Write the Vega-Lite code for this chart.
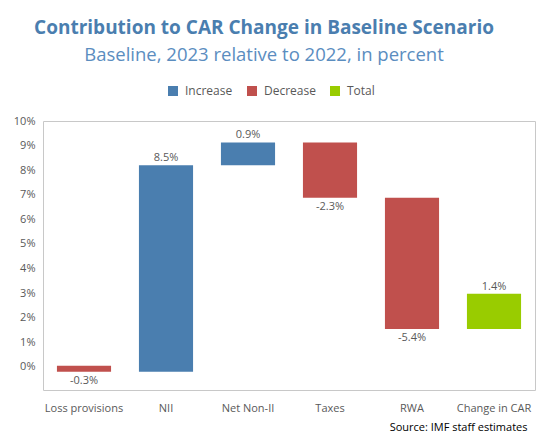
{
  "$schema": "https://vega.github.io/schema/vega-lite/v6.json",
  "autosize": {"type": "none"},
  "width": 492,
  "height": 269,
  "padding": {"left": 43, "top": 121, "right": 4, "bottom": 55},
  "background": "white",
  "config": {
    "font": "Open Sans",
    "view": {"stroke": "#C8C8C8", "strokeWidth": 1}
  },
  "title": {
    "text": "Contribution to CAR Change in Baseline Scenario",
    "subtitle": "Baseline, 2023 relative to 2022, in percent",
    "anchor": "middle",
    "frame": "group",
    "dx": -25,
    "fontSize": 19,
    "fontWeight": "bold",
    "color": "#4A7EAF",
    "subtitleFontSize": 18.5,
    "subtitleColor": "#5B8DBF",
    "subtitlePadding": 8,
    "offset": 21
  },
  "data": {
    "values": [
      {"category": "Loss provisions", "type": "Decrease", "start": 0.0005, "end": -0.002, "change": -0.003},
      {"category": "NII", "type": "Increase", "start": -0.002, "end": 0.082, "change": 0.085},
      {"category": "Net Non-II", "type": "Increase", "start": 0.082, "end": 0.0913, "change": 0.009},
      {"category": "Taxes", "type": "Decrease", "start": 0.0913, "end": 0.0688, "change": -0.023},
      {"category": "RWA", "type": "Decrease", "start": 0.0688, "end": 0.0154, "change": -0.054},
      {"category": "Change in CAR", "type": "Total", "start": 0.0154, "end": 0.0297, "change": 0.014}
    ]
  },
  "transform": [
    {"calculate": "replace(format(datum.change, '.1%'), '\u2212', '-')", "as": "label"}
  ],
  "encoding": {
    "x": {
      "field": "category",
      "type": "nominal",
      "sort": null,
      "scale": {"paddingInner": 0.34, "paddingOuter": 0.17},
      "axis": {
        "labelAngle": 0,
        "labelFontSize": 11,
        "labelColor": "#595959",
        "labelPadding": 12,
        "ticks": false,
        "domain": false,
        "title": "Source: IMF staff estimates",
        "titleFontSize": 11,
        "titleFontWeight": "normal",
        "titleColor": "#000000",
        "titleAlign": "right",
        "titleAnchor": "end",
        "titleX": 484,
        "titleY": 37,
        "titleBaseline": "middle"
      }
    },
    "y": {
      "field": "end",
      "type": "quantitative",
      "scale": {"domain": [-0.0094, 0.1], "nice": false, "zero": false},
      "axis": {
        "values": [0, 0.01, 0.02, 0.03, 0.04, 0.05, 0.06, 0.07, 0.08, 0.09, 0.1],
        "format": ".0%",
        "labelOverlap": false,
        "grid": false,
        "ticks": false,
        "domain": false,
        "labelFontSize": 11,
        "labelColor": "#595959",
        "labelPadding": 8,
        "title": null
      }
    }
  },
  "layer": [
    {
      "mark": {"type": "bar"},
      "encoding": {
        "y2": {"field": "start"},
        "color": {
          "field": "type",
          "type": "nominal",
          "scale": {"domain": ["Increase", "Decrease", "Total"], "range": ["#4A7EAF", "#C0504D", "#99CC00"]},
          "legend": {
            "title": null,
            "orient": "none",
            "direction": "horizontal",
            "legendX": 124,
            "legendY": -36,
            "symbolType": "square",
            "symbolSize": 100,
            "symbolStrokeWidth": 0,
            "labelFontSize": 12,
            "labelColor": "#595959",
            "labelOffset": 6,
            "columnPadding": 13,
            "encode": {
              "symbols": {
                "update": {
                  "fill": {"signal": "datum.value === 'Total' ? '#9BBB59' : datum.value === 'Increase' ? '#4F81BD' : '#C0504D'"}
                }
              }
            }
          }
        }
      }
    },
    {
      "transform": [{"filter": "datum.type !== 'Decrease'"}],
      "mark": {"type": "text", "baseline": "bottom", "dy": -2, "fontSize": 11, "color": "#595959"},
      "encoding": {
        "text": {"field": "label", "type": "nominal"}
      }
    },
    {
      "transform": [{"filter": "datum.type === 'Decrease'"}],
      "mark": {"type": "text", "baseline": "top", "dy": 3, "fontSize": 11, "color": "#595959"},
      "encoding": {
        "text": {"field": "label", "type": "nominal"}
      }
    }
  ]
}
